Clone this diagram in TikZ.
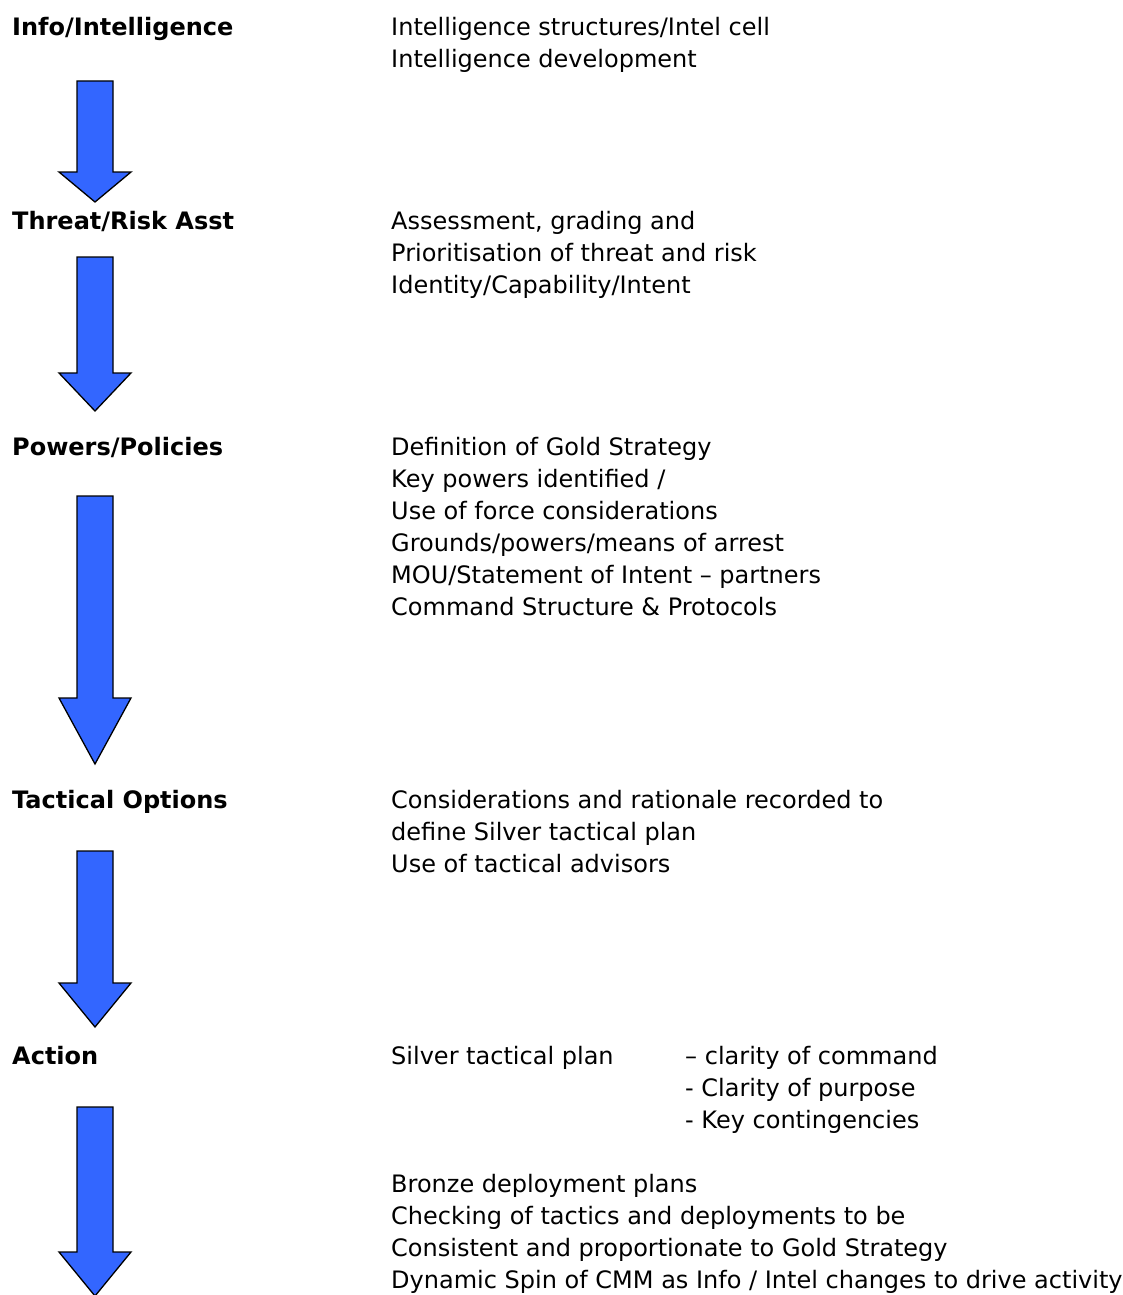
\documentclass[tikz,border=0pt]{standalone}
\usepackage{fontspec}
\setmainfont{DejaVu Sans}
\definecolor{arrowblue}{HTML}{3366FF}
\tikzset{
  blockarrow/.style={fill=arrowblue, draw=black, line width=1.3pt, line join=miter},
  heading/.style={anchor=base west, inner sep=0pt, font=\fontsize{24}{32}\selectfont\bfseries},
  bodyline/.style={anchor=base west, inner sep=0pt, font=\fontsize{24}{32}\selectfont}
}
\newcommand{\downarrowshape}[3]{% top, head base, tip
  \draw[blockarrow] (77,-#1) -- (113,-#1) -- (113,-#2) -- (131,-#2) -- (95,-#3) -- (59,-#2) -- (77,-#2) -- cycle;
}
\begin{document}
\begin{tikzpicture}[x=1pt,y=1pt]
\useasboundingbox (0,0) rectangle (1122,-1295);
\fill[white] (0,0) rectangle (1122,-1295);

% headings
\node[heading] (h1) at (12,-36) {Info/Intelligence};
\node[heading] (h2) at (12,-229) {Threat/Risk Asst};
\node[heading] (h3) at (12,-455) {Powers/Policies};
\node[heading] (h4) at (12,-808) {Tactical Options};
\node[heading] (h5) at (12,-1064) {Action};

% block 1
\node[bodyline] (a1) at (391,-36) {Intelligence structures/Intel cell};
\node[bodyline] (a2) at (391,-68) {Intelligence development};
% block 2
\node[bodyline] (b1) at (391,-229) {Assessment, grading and};
\node[bodyline] (b2) at (391,-261) {Prioritisation of threat and risk};
\node[bodyline] (b3) at (391,-293) {Identity/Capability/Intent};
% block 3
\node[bodyline] (c1) at (391,-455) {Definition of Gold Strategy};
\node[bodyline] (c2) at (391,-487) {Key powers identified /};
\node[bodyline] (c3) at (391,-519) {Use of force considerations};
\node[bodyline] (c4) at (391,-551) {Grounds/powers/means of arrest};
\node[bodyline] (c5) at (391,-583) {MOU/Statement of Intent – partners};
\node[bodyline] (c6) at (391,-615) {Command Structure \& Protocols};
% block 4
\node[bodyline] (d1) at (391,-808) {Considerations and rationale recorded to};
\node[bodyline] (d2) at (391,-840) {define Silver tactical plan};
\node[bodyline] (d3) at (391,-872) {Use of tactical advisors};
% block 5
\node[bodyline] (e1) at (391,-1064) {Silver tactical plan};
\node[bodyline] (e2) at (685,-1064) {– clarity of command};
\node[bodyline] (e3) at (685,-1096) {- Clarity of purpose};
\node[bodyline] (e4) at (685,-1128) {- Key contingencies};
% block 6
\node[bodyline] (f1) at (391,-1192) {Bronze deployment plans};
\node[bodyline] (f2) at (391,-1224) {Checking of tactics and deployments to be};
\node[bodyline] (f3) at (391,-1256) {Consistent and proportionate to Gold Strategy};
\node[bodyline] (f4) at (391,-1288) {Dynamic Spin of CMM as Info / Intel changes to drive activity};

% arrows
\downarrowshape{81}{172}{202}
\downarrowshape{257}{373}{411}
\downarrowshape{496}{698}{764}
\downarrowshape{851}{983}{1027}
\downarrowshape{1107}{1252}{1296}
\end{tikzpicture}
\end{document}
